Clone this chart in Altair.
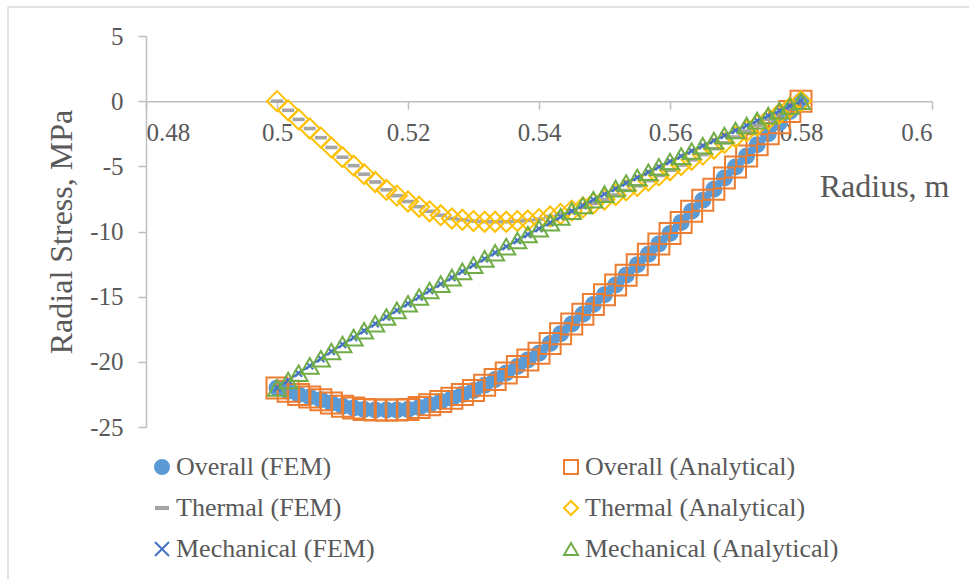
import altair as alt
import pandas as pd

radius = [0.5000, 0.5017, 0.5033, 0.5050, 0.5067, 0.5083, 0.5100, 0.5117, 0.5133, 0.5150,
          0.5167, 0.5183, 0.5200, 0.5217, 0.5233, 0.5250, 0.5267, 0.5283, 0.5300, 0.5317,
          0.5333, 0.5350, 0.5367, 0.5383, 0.5400, 0.5417, 0.5433, 0.5450, 0.5467, 0.5483,
          0.5500, 0.5517, 0.5533, 0.5550, 0.5567, 0.5583, 0.5600, 0.5617, 0.5633, 0.5650,
          0.5667, 0.5683, 0.5700, 0.5717, 0.5733, 0.5750, 0.5767, 0.5783, 0.5800]

overall = [-22.0, -22.25, -22.5, -22.7, -22.9, -23.15, -23.4, -23.55, -23.65, -23.7,
           -23.7, -23.7, -23.65, -23.5, -23.3, -23.05, -22.8, -22.5, -22.2, -21.8,
           -21.35, -20.85, -20.35, -19.85, -19.35, -18.6, -17.85, -17.1, -16.35, -15.6,
           -14.85, -14.1, -13.35, -12.55, -11.75, -10.95, -10.15, -9.3, -8.45, -7.6,
           -6.75, -5.9, -5.05, -4.2, -3.35, -2.5, -1.65, -0.8, 0.0]

thermal = [0.0, -0.7, -1.4, -2.1, -2.8, -3.55, -4.3, -4.95, -5.6, -6.2,
           -6.8, -7.25, -7.7, -8.1, -8.45, -8.75, -9.0, -9.1, -9.2, -9.25,
           -9.25, -9.25, -9.2, -9.15, -9.05, -8.85, -8.65, -8.4, -8.15, -7.85,
           -7.55, -7.2, -6.85, -6.5, -6.1, -5.7, -5.3, -4.9, -4.5, -4.1,
           -3.65, -3.2, -2.75, -2.3, -1.85, -1.4, -0.95, -0.5, 0.0]

mechanical = [-22.0, -21.43, -20.87, -20.31, -19.76, -19.21, -18.67, -18.14, -17.61, -17.08,
              -16.56, -16.05, -15.54, -15.03, -14.53, -14.04, -13.54, -13.06, -12.58, -12.10,
              -11.63, -11.16, -10.69, -10.23, -9.78, -9.33, -8.88, -8.44, -8.00, -7.56,
              -7.13, -6.71, -6.28, -5.86, -5.45, -5.04, -4.63, -4.22, -3.82, -3.42,
              -3.03, -2.64, -2.25, -1.87, -1.49, -1.11, -0.74, -0.37, 0.0]

# drawing order (Excel series order)
series_names = ["Overall (FEM)", "Overall (Analytical)", "Thermal (FEM)",
                "Thermal (Analytical)", "Mechanical (FEM)", "Mechanical (Analytical)"]
series_values = [overall, overall, thermal, thermal, mechanical, mechanical]

# legend order (legend fills column by column)
legend_order = ["Overall (FEM)", "Thermal (FEM)", "Mechanical (FEM)",
                "Overall (Analytical)", "Thermal (Analytical)", "Mechanical (Analytical)"]

x_ticks = [0.48, 0.5, 0.52, 0.54, 0.56, 0.58, 0.6]
y_ticks = [-25, -20, -15, -10, -5, 0, 5]

DASH = "M-1,-0.3L1,-0.3L1,0.3L-1,0.3Z"
XMARK = "M-1,-1L1,1M-1,1L1,-1"
style = {
    "Overall (FEM)": ("circle", "#5B9BD5", "#5B9BD5", 225),
    "Overall (Analytical)": ("square", "transparent", "#ED7D31", 441),
    "Thermal (FEM)": (DASH, "#A5A5A5", "transparent", 144),
    "Thermal (Analytical)": ("diamond", "transparent", "#FFC000", 400),
    "Mechanical (FEM)": (XMARK, "transparent", "#4472C4", 49),
    "Mechanical (Analytical)": ("triangle-up", "transparent", "#70AD47", 324),
}
shapes = [style[s][0] for s in legend_order]
fills = [style[s][1] for s in legend_order]
strokes = [style[s][2] for s in legend_order]

rows = []
for k, (name, vals) in enumerate(zip(series_names, series_values)):
    for r, v in zip(radius, vals):
        rows.append({"radius": r, "stress": v, "series": name, "k": k})
df = pd.DataFrame(rows)

FONT = "Liberation Serif"
TXT = "#595959"
AX = "#BFBFBF"

x_enc = alt.X("radius:Q",
              scale=alt.Scale(domain=[0.48, 0.6], nice=False, zero=False),
              axis=alt.Axis(values=x_ticks, labelExpr="datum.value + ''",
                            title="Radius, m", offset=-325.8,
                            titleAlign="right", titleX=803, titleY=95,
                            titleBaseline="alphabetic", titleAngle=0,
                            tickSize=8, labelPadding=11, labelFontSize=25))
y_enc = alt.Y("stress:Q",
              scale=alt.Scale(domain=[-25, 5], nice=False, zero=False),
              axis=alt.Axis(values=y_ticks, labelExpr="datum.value + ''",
                            title="Radial Stress, MPa",
                            titleX=-75, titleY=195.5, titleAngle=270,
                            titleAlign="center", titleBaseline="alphabetic",
                            tickSize=8, labelPadding=15, labelFontSize=25))

dom = legend_order
legend_main = alt.Legend(
    title=None, orient="none", legendX=3, legendY=418, columns=2,
    columnPadding=183, rowPadding=15, labelFont=FONT, labelFontSize=26,
    labelColor=TXT, symbolSize=196, symbolStrokeWidth=2, labelOffset=1,
    labelLimit=400)

enc_common = dict(
    shape=alt.Shape("series:N", scale=alt.Scale(domain=dom, range=shapes), legend=legend_main),
    fill=alt.Fill("series:N", scale=alt.Scale(domain=dom, range=fills), legend=legend_main),
    stroke=alt.Stroke("series:N", scale=alt.Scale(domain=dom, range=strokes), legend=legend_main),
)

base = alt.Chart(df)

layers = []
one = alt.Chart(pd.DataFrame({"a": [0]}))
layers.append(one.mark_rule(color="#D9D9D9", strokeWidth=1.5).encode(
    x=alt.value(-138), y=alt.value(-29), y2=alt.value(560)))
layers.append(one.mark_rule(color="#D9D9D9", strokeWidth=1.5).encode(
    x=alt.value(-138), x2=alt.value(830), y=alt.value(-29)))

for k, name in enumerate(series_names):
    if k == 4:
        layers.append(base.transform_filter(alt.datum.k == 4).mark_line(
            color="#4472C4", strokeWidth=2).encode(x="radius:Q", y="stress:Q"))
    layers.append(base.transform_filter(alt.datum.k == k).mark_point(
        filled=True, strokeWidth=2, opacity=1, size=style[name][3]).encode(
        x=x_enc if k == 0 else alt.X("radius:Q"),
        y=y_enc if k == 0 else alt.Y("stress:Q"),
        **enc_common))

chart = alt.layer(*layers).properties(
    width=786, height=391,
    autosize=alt.AutoSizeParams(type="none"),
    padding={"left": 146, "top": 36, "right": 37, "bottom": 152},
    background="white",
).configure_view(stroke=None).configure_axis(
    grid=False, domainColor=AX, tickColor=AX, domainWidth=1.5, tickWidth=1.5,
    labelFont=FONT, labelColor=TXT, titleFont=FONT, titleColor=TXT,
    titleFontSize=32, titleFontWeight="normal",
)

chart.save("out.html", embed_options={"renderer": "svg", "actions": False})
